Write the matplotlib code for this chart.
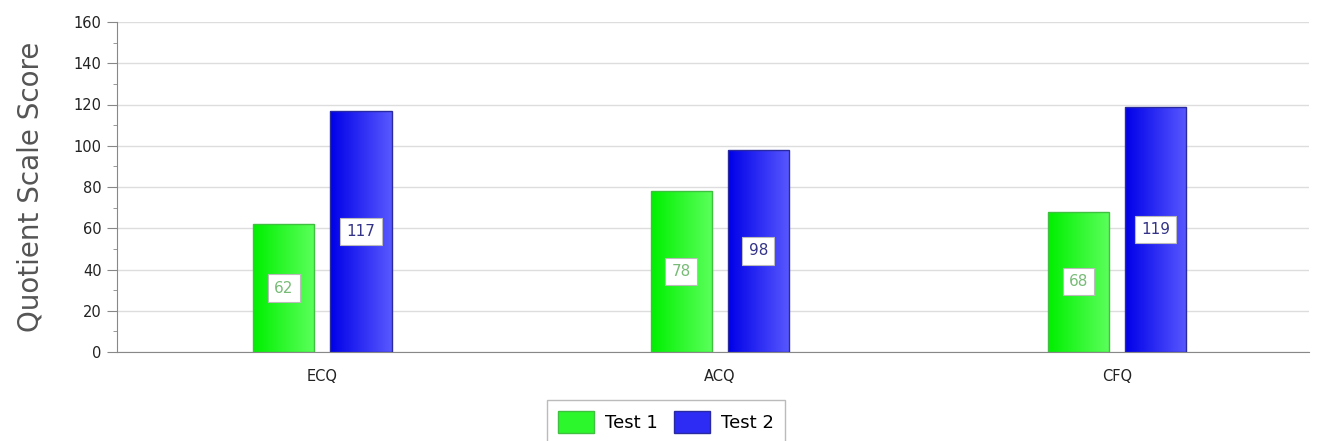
import numpy as np
import matplotlib
matplotlib.use("Agg")
import matplotlib.pyplot as plt
from matplotlib.patches import Patch
from matplotlib.ticker import MultipleLocator

categories = ["ECQ", "ACQ", "CFQ"]
test1 = [62, 78, 68]
test2 = [117, 98, 119]
series_names = ["Test 1", "Test 2"]

plt.rcParams['font.family'] = ['DejaVu Sans']

fig = plt.figure(figsize=(13.17, 4.41), dpi=100)
ax = fig.add_axes([117/1317, 1-352/441, (1309-117)/1317, (352-22)/441])

x = np.arange(len(categories))
w = 0.154
off = 0.097

def grad_bars(xs, vals, c_left, c_right, edge):
    bars = ax.bar(xs, vals, width=w, color='none', edgecolor=edge, linewidth=1, zorder=3)
    cl = np.array(matplotlib.colors.to_rgb(c_left))
    cr = np.array(matplotlib.colors.to_rgb(c_right))
    t = np.linspace(0, 1, 64)
    img = (cl[None, :] * (1 - t[:, None]) + cr[None, :] * t[:, None])[None, :, :]
    for b in bars:
        x0, y0 = b.get_x(), b.get_y()
        im = ax.imshow(img, extent=[x0, x0 + b.get_width(), y0, y0 + b.get_height()],
                       aspect='auto', zorder=2, interpolation='bilinear')
        im.set_clip_path(b)
    return bars

grad_bars(x - off, test1, '#00f000', '#5cff5c', '#40c040')
grad_bars(x + off, test2, '#0000e8', '#5858ff', '#2a2aa0')

for xi, v in zip(x - off, test1):
    ax.text(xi, v / 2, str(v), ha='center', va='center', fontsize=11, color='#77bb77', zorder=5,
            bbox=dict(boxstyle='square,pad=0.4', fc='white', ec='#bbbbbb', lw=0.8))
for xi, v in zip(x + off, test2):
    ax.text(xi, v / 2, str(v), ha='center', va='center', fontsize=11, color='#333388', zorder=5,
            bbox=dict(boxstyle='square,pad=0.4', fc='white', ec='#bbbbbb', lw=0.8))

ax.set_xlim(-0.517, 2.483)
ax.set_ylim(0, 160)
ax.yaxis.set_major_locator(MultipleLocator(20))
ax.yaxis.set_minor_locator(MultipleLocator(10))
ax.set_xticks(x)
ax.set_xticklabels(categories, fontsize=10.5, color='#222222')
ax.tick_params(axis='x', length=0, pad=12)
ax.tick_params(axis='y', which='major', length=7, color='#888888', labelsize=10.5, labelcolor='#222222', pad=4)
ax.tick_params(axis='y', which='minor', length=3, color='#888888')
ax.grid(axis='y', color='#dddddd', linewidth=1, zorder=0)
ax.set_axisbelow(True)
for s in ['top', 'right']:
    ax.spines[s].set_visible(False)
for s in ['left', 'bottom']:
    ax.spines[s].set_color('#888888')
ax.set_ylabel("Quotient Scale Score", fontsize=20, color='#555555')
ax.yaxis.set_label_coords(-72/1192, 0.5)

handles = [Patch(facecolor='#2cf72c', edgecolor='#40c040', label=series_names[0]),
           Patch(facecolor='#2c2cf4', edgecolor='#2a2aa0', label=series_names[1])]
leg = fig.legend(handles=handles, loc='upper center', bbox_to_anchor=(666/1317, 1-400/441),
                 ncol=2, frameon=True, fancybox=False, fontsize=13, handlelength=2.0,
                 handleheight=1.5, borderpad=0.6, columnspacing=0.9, handletextpad=0.6,
                 borderaxespad=0)
leg.get_frame().set_edgecolor('#aaaaaa')
leg.get_frame().set_linewidth(1)

fig.savefig("out.png", dpi=100)
